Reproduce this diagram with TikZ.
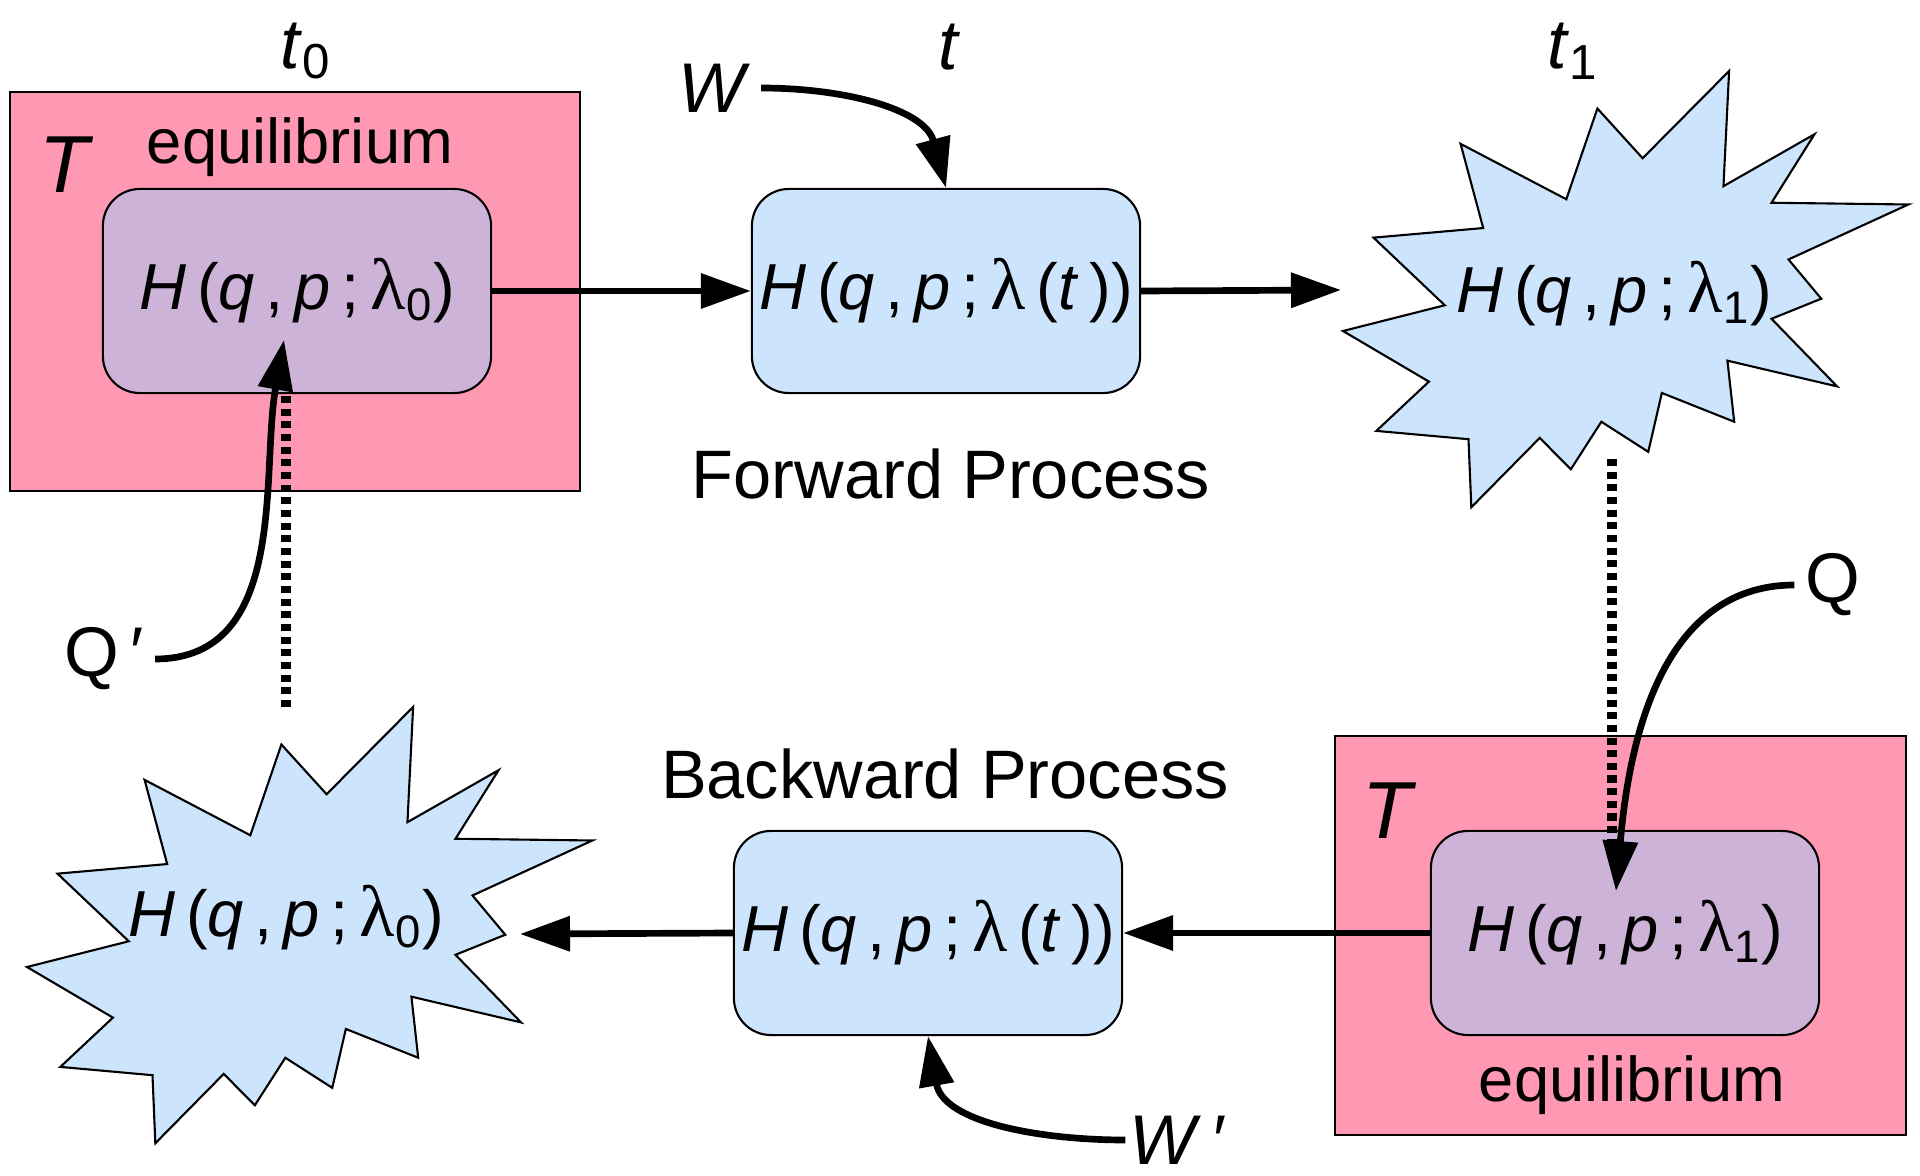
\documentclass[tikz,border=0pt]{standalone}
\usepackage{fontspec}
\setmainfont{Liberation Sans}
\newfontfamily\lamfont[Scale=1.12]{Liberation Serif}
\usepackage{tikz}
\usetikzlibrary{arrows.meta,positioning,calc}

\definecolor{bathpink}{RGB}{255,153,179}
\definecolor{eqlilac}{RGB}{204,179,215}
\definecolor{paleblue}{RGB}{204,229,252}

\newcommand{\hamsize}{\fontsize{18.5}{22}\selectfont}
\newcommand{\labsize}{\fontsize{20}{24}\selectfont}
\newcommand{\procsize}{\fontsize{19.5}{23}\selectfont}
\newcommand{\eqsize}{\fontsize{18}{22}\selectfont}
\newcommand{\bathsize}{\fontsize{23}{27}\selectfont}
\newcommand{\lam}{{\lamfont λ}}
\newcommand{\Ham}[1]{\textit{H}\,(\textit{q}\,,\,\textit{p}\,;\,\lam#1)}
% burst outline, #1 = north west corner of its bounding box
\newcommand{\burstat}[1]{%
  \draw[burst, shift={#1}, x=5.65cm, y=-4.36cm]
    (0.683,0) -- (0.673,0.264) -- (0.834,0.145) -- (0.758,0.302)
    -- (1.0,0.306) -- (0.788,0.432) -- (0.846,0.522) -- (0.758,0.568)
    -- (0.874,0.723) -- (0.680,0.664) -- (0.692,0.804) -- (0.564,0.738)
    -- (0.540,0.873) -- (0.457,0.804) -- (0.403,0.913) -- (0.348,0.841)
    -- (0.227,1.0) -- (0.222,0.844) -- (0.059,0.825) -- (0.152,0.712)
    -- (0,0.596) -- (0.180,0.537) -- (0.054,0.382) -- (0.248,0.360)
    -- (0.208,0.167) -- (0.395,0.294) -- (0.450,0.086) -- (0.530,0.200)
    -- cycle;}

\begin{document}
\begin{tikzpicture}[
    x=0.01cm, y=-0.01cm,
    >={Triangle[length=0.5cm,width=0.34cm]},
    bath/.style={
        rectangle, draw=black, line width=0.6pt, fill=bathpink,
        minimum width=5.70cm, minimum height=3.99cm
    },
    eqbox/.style={
        rectangle, draw=black, line width=0.6pt, rounded corners=0.37cm,
        fill=eqlilac, minimum width=3.88cm, minimum height=2.04cm,
        inner sep=0pt, font=\hamsize
    },
    procbox/.style={
        eqbox, fill=paleblue
    },
    burst/.style={
        draw=black, line width=0.6pt, fill=paleblue
    },
    burstlabel/.style={
        inner sep=0pt, font=\hamsize
    },
    eqlabel/.style={
        inner sep=0pt, font=\eqsize
    },
    sym/.style={
        inner sep=3pt, font=\labsize
    },
    proclabel/.style={
        inner sep=0pt, font=\procsize
    },
    flow/.style={
        ->, line width=1.9pt
    },
    settle/.style={
        line width=2.8pt, dash pattern=on 2pt off 1.6pt
    }
]
\useasboundingbox (0,0) rectangle (1920,1176);

% — Heat baths —
\node[bath] (bath0) at (295,291.5) {};
\node[bath] (bath1) at (1620.5,935.5) {};

% — Equilibrium states —
\node[eqbox] (eq0) at (297,291) {\Ham{\textsubscript{0}}};
\node[eqbox] (eq1) at (1625,933) {\Ham{\textsubscript{1}}};

% — Driven states —
\node[procbox] (fwd) at (946,291) {\Ham{\,(\textit{t}\,)}};
\node[procbox] (bwd) at (928,933) {\Ham{\,(\textit{t}\,)}};

% — Non-equilibrium end states —
\burstat{(1343,71)}
\burstat{(27,707)}
\node[burstlabel] (hot1) at (1614,294) {\Ham{\textsubscript{1}}};
\node[burstlabel] (hot0) at (286,918) {\Ham{\textsubscript{0}}};
\coordinate (hot1in) at (1341,290);
\coordinate (hot0in) at (520,934);

% — Labels —
\node[eqlabel] (eqlab0) at (300,147) {equilibrium};
\node[eqlabel] (eqlab1) at (1632,1085) {equilibrium};
\node[sym, font=\bathsize] (T0) at (67,165) {\textit{T}};
\node[sym, font=\bathsize] (T1) at (1390,811) {\textit{T}};
\node[sym] (t0) at (306,51) {\textit{t}\textsubscript{0}};
\node[sym] (tmid) at (949,47) {\textit{t}};
\node[sym] (t1) at (1573,51) {\textit{t}\textsubscript{1}};
\node[proclabel] (fwdlab) at (951,474) {Forward Process};
\node[proclabel] (bwdlab) at (945,774) {Backward Process};
\node[sym] (W) at (714,88) {\textit{W}};
\node[sym, inner sep=1pt] (Wp) at (1178,1140) {\textit{W}\,′};
\node[sym] (Q) at (1833,585) {Q};
\node[sym] (Qp) at (104,659) {Q\,′};

% — Process arrows —
\draw[flow] (eq0.east) -- (fwd.west);
\draw[flow] (fwd.east) -- (hot1in);
\draw[flow] (eq1.west) -- (bwd.east);
\draw[flow] (bwd.west) -- (hot0in);

% — Relaxation (dotted) —
\coordinate (settle1a) at (1612,459);
\coordinate (settle1b) at (1612,845);
\coordinate (settle0a) at (286,707);
\coordinate (settle0b) at (286,393);
\draw[settle] (settle1a) -- (settle1b);
\draw[settle] (settle0a) -- (settle0b);

% — Work and heat —
\coordinate (Qin) at (1616,891);
\coordinate (Qpin) at (284,340);
\draw[flow] (W.east) to[out=0, in=105] (fwd.north);
\draw[flow] (Wp.west) to[out=180, in=-80] (bwd.south);
\draw[flow] (Q.west) to[out=180, in=85] (Qin);
\draw[flow] (Qp.east) to[out=0, in=-100] (Qpin);

\end{tikzpicture}
\end{document}
